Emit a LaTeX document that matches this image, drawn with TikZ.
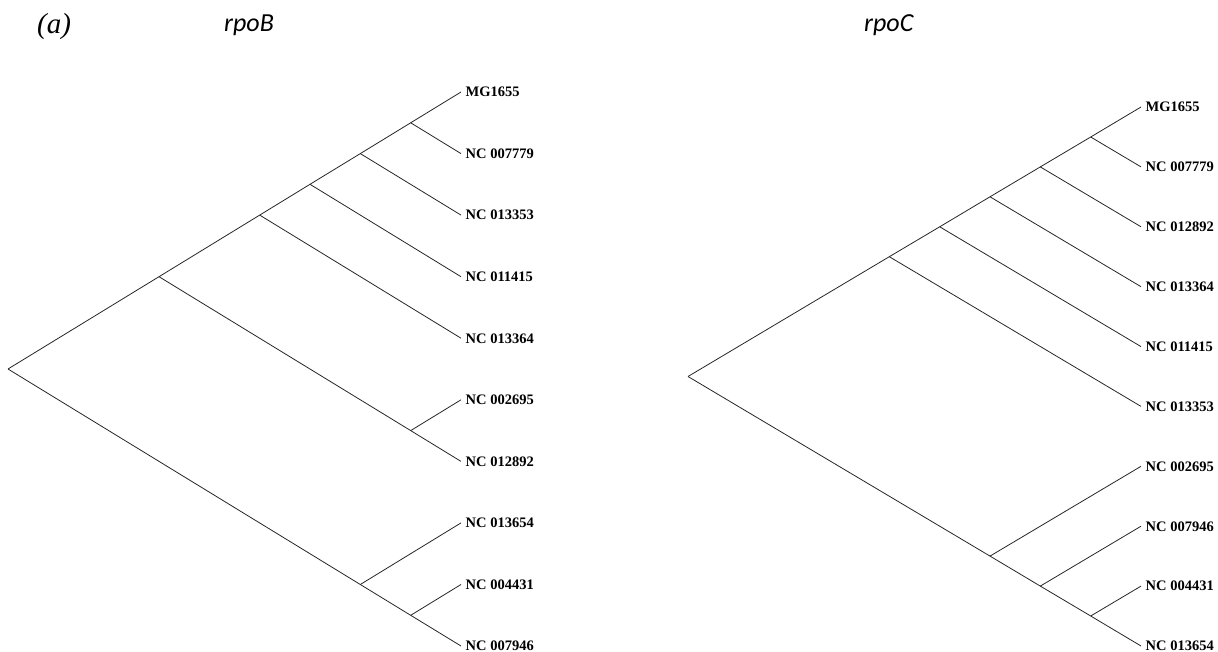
\documentclass[tikz,border=0pt]{standalone}
\usepackage{fontspec}
\setmainfont{Liberation Serif}
\newfontfamily\genefont{Carlito}
\begin{document}
\begin{tikzpicture}[x=1pt,y=-1pt,
  branch/.style={draw=black!85,line width=0.8pt},
  lbl/.style={anchor=west,inner sep=0pt,xshift=4.5pt,text depth=0pt,
    font=\fontsize{14.5}{16}\selectfont\bfseries},
  gene/.style={anchor=base west,inner sep=0pt,
    font=\genefont\itshape\fontsize{26}{30}\selectfont},
  panel/.style={anchor=base west,inner sep=0pt,
    font=\itshape\fontsize{29}{32}\selectfont}]
\useasboundingbox (0,0) rectangle (1218,652);

% headings
\node[panel] (pa) at (37,34) {(a)};
\node[gene] (gB) at (224,32) {rpoB};
\node[gene] (gC) at (864,32) {rpoC};

% ---------- rpoB tree ----------
\coordinate (tL0) at (461,92);
\coordinate (tL1) at (461,153.6);
\coordinate (tL2) at (461,215.1);
\coordinate (tL3) at (461,276.7);
\coordinate (tL4) at (461,338.2);
\coordinate (tL5) at (461,399.8);
\coordinate (tL6) at (461,461.4);
\coordinate (tL7) at (461,522.9);
\coordinate (tL8) at (461,584.5);
\coordinate (tL9) at (461,646);
\node[lbl] (nL0) at (tL0) {MG1655};
\node[lbl] (nL1) at (tL1) {NC 007779};
\node[lbl] (nL2) at (tL2) {NC 013353};
\node[lbl] (nL3) at (tL3) {NC 011415};
\node[lbl] (nL4) at (tL4) {NC 013364};
\node[lbl] (nL5) at (tL5) {NC 002695};
\node[lbl] (nL6) at (tL6) {NC 012892};
\node[lbl] (nL7) at (tL7) {NC 013654};
\node[lbl] (nL8) at (tL8) {NC 004431};
\node[lbl] (nL9) at (tL9) {NC 007946};
\coordinate (a1) at (410.7,122.8);
\coordinate (a2) at (360.3,153.6);
\coordinate (a3) at (310.0,184.3);
\coordinate (a4) at (259.7,215.1);
\coordinate (a5) at (159.0,276.7);
\coordinate (b1) at (410.7,430.6);
\coordinate (c1) at (410.7,615.3);
\coordinate (c2) at (360.3,584.5);
\coordinate (rootL) at (8,369);
\draw[branch] (rootL) -- (a5) -- (a4) -- (a3) -- (a2) -- (a1) -- (tL0);
\draw[branch] (a1) -- (tL1);
\draw[branch] (a2) -- (tL2);
\draw[branch] (a3) -- (tL3);
\draw[branch] (a4) -- (tL4);
\draw[branch] (a5) -- (b1) -- (tL6);
\draw[branch] (b1) -- (tL5);
\draw[branch] (rootL) -- (c2) -- (c1) -- (tL9);
\draw[branch] (c2) -- (tL7);
\draw[branch] (c1) -- (tL8);

% ---------- rpoC tree ----------
\coordinate (tR0) at (1141,107);
\coordinate (tR1) at (1141,166.9);
\coordinate (tR2) at (1141,226.8);
\coordinate (tR3) at (1141,286.7);
\coordinate (tR4) at (1141,346.6);
\coordinate (tR5) at (1141,406.4);
\coordinate (tR6) at (1141,466.3);
\coordinate (tR7) at (1141,526.2);
\coordinate (tR8) at (1141,586.1);
\coordinate (tR9) at (1141,646);
\node[lbl] (nR0) at (tR0) {MG1655};
\node[lbl] (nR1) at (tR1) {NC 007779};
\node[lbl] (nR2) at (tR2) {NC 012892};
\node[lbl] (nR3) at (tR3) {NC 013364};
\node[lbl] (nR4) at (tR4) {NC 011415};
\node[lbl] (nR5) at (tR5) {NC 013353};
\node[lbl] (nR6) at (tR6) {NC 002695};
\node[lbl] (nR7) at (tR7) {NC 007946};
\node[lbl] (nR8) at (tR8) {NC 004431};
\node[lbl] (nR9) at (tR9) {NC 013654};
\coordinate (r1) at (1090.7,137.0);
\coordinate (r2) at (1040.3,166.9);
\coordinate (r3) at (990.0,196.8);
\coordinate (r4) at (939.7,226.8);
\coordinate (r5) at (889.3,256.7);
\coordinate (s1) at (1090.7,616.0);
\coordinate (s2) at (1040.3,586.1);
\coordinate (s3) at (990.0,556.1);
\coordinate (rootR) at (688,376.5);
\draw[branch] (rootR) -- (r5) -- (r4) -- (r3) -- (r2) -- (r1) -- (tR0);
\draw[branch] (r1) -- (tR1);
\draw[branch] (r2) -- (tR2);
\draw[branch] (r3) -- (tR3);
\draw[branch] (r4) -- (tR4);
\draw[branch] (r5) -- (tR5);
\draw[branch] (rootR) -- (s3) -- (s2) -- (s1) -- (tR9);
\draw[branch] (s3) -- (tR6);
\draw[branch] (s2) -- (tR7);
\draw[branch] (s1) -- (tR8);
\end{tikzpicture}
\end{document}
